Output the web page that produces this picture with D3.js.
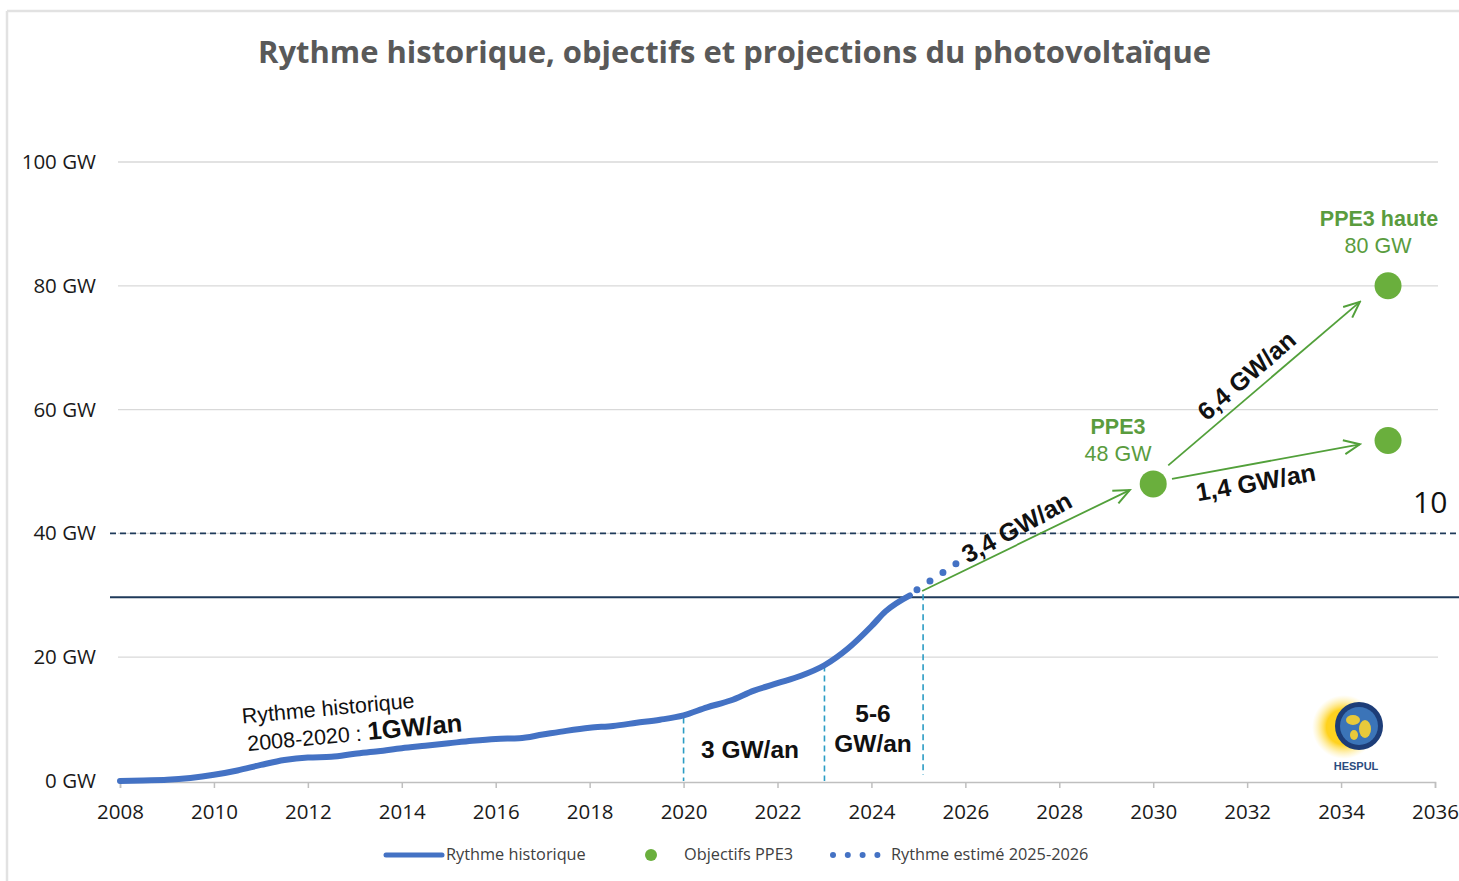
<!DOCTYPE html>
<html>
<head>
<meta charset="utf-8">
<script src="https://cdn.jsdelivr.net/npm/d3@7"></script>
<style>
  body { margin: 0; background: #ffffff; }
  svg { display: block; }
</style>
</head>
<body>
<script>
// historical cumulative PV capacity (year, GW)
var histYears = [2008.0, 2008.5, 2009.0, 2009.5, 2010.0, 2010.5, 2011.0, 2011.5, 2012.0, 2012.5,
                 2013.0, 2013.5, 2014.0, 2014.5, 2015.0, 2015.5, 2016.0, 2016.5, 2017.0, 2017.5,
                 2018.0, 2018.5, 2019.0, 2019.5, 2020.0, 2020.5, 2021.0, 2021.5, 2022.0, 2022.5,
                 2023.0, 2023.5, 2024.0, 2024.3, 2024.82];
var histGW = [0.0, 0.1, 0.2, 0.5, 1.0, 1.7, 2.6, 3.4, 3.8, 3.9,
              4.4, 4.8, 5.3, 5.7, 6.1, 6.5, 6.8, 6.9, 7.5, 8.1,
              8.6, 8.9, 9.4, 9.9, 10.6, 11.9, 13.0, 14.6, 15.8, 17.0,
              18.7, 21.4, 25.0, 27.4, 30.0];

// estimated rhythm 2025-2026 (dotted)
var estYears = [2024.97, 2025.8];
var estGW = [30.9, 35.1];

// PPE3 objectives
var objYears = [2030, 2035, 2035];
var objGW = [48, 80, 55];

// arrows between objectives
var arrowFrom = [[2025.08, 30.7], [2030.32, 51.0], [2030.4, 48.8]];
var arrowTo = [[2029.5, 47.0], [2034.4, 77.4], [2034.4, 54.4]];
var arrowLabels = ["3,4 GW/an", "6,4 GW/an", "1,4 GW/an"];

// vertical markers (year, top GW)
var markYears = [2020, 2023, 2025.1];
var markGW = [10.6, 19.0, 30.5];

var yTicks = [0, 20, 40, 60, 80, 100];
var xTicks = [2008, 2010, 2012, 2014, 2016, 2018, 2020, 2022, 2024, 2026, 2028, 2030, 2032, 2034, 2036];

var width = 1459;
var height = 881;

var svg = d3.select("body")
            .append("svg")
            .attr("width", width)
            .attr("height", height);

var x = d3.scaleLinear().domain([2008, 2036]).range([120, 1435]);
var y = d3.scaleLinear().domain([0, 100]).range([781, 162]);

var sans = "'Open Sans', 'DejaVu Sans', sans-serif";
var arial = "'Liberation Sans', Arial, sans-serif";

// frame of the screenshot
svg.append("line").attr("x1", 7).attr("x2", width).attr("y1", 11).attr("y2", 11)
   .attr("stroke", "#e2e2e2").attr("stroke-width", 2.5);
svg.append("line").attr("x1", 7).attr("x2", 7).attr("y1", 11).attr("y2", height)
   .attr("stroke", "#e2e2e2").attr("stroke-width", 2.5);

// title
svg.append("text")
   .text("Rythme historique, objectifs et projections du photovoltaïque")
   .attr("x", 258)
   .attr("y", 63)
   .attr("textLength", 953)
   .attr("lengthAdjust", "spacingAndGlyphs")
   .style("font-family", sans)
   .style("font-size", "31px")
   .style("font-weight", "bold")
   .attr("fill", "#595959");

// gridlines
svg.selectAll("line.grid")
   .data(yTicks.slice(1))
   .enter()
   .append("line")
   .attr("class", "grid")
   .attr("x1", 118)
   .attr("x2", 1438)
   .attr("y1", function(d) { return y(d); })
   .attr("y2", function(d) { return y(d); })
   .attr("stroke", "#d9d9d9")
   .attr("stroke-width", 1.3);

// y labels
svg.selectAll("text.ylab")
   .data(yTicks)
   .enter()
   .append("text")
   .attr("class", "ylab")
   .text(function(d) { return d + " GW"; })
   .attr("x", 96)
   .attr("y", function(d) { return y(d) + 7; })
   .attr("text-anchor", "end")
   .style("font-family", sans)
   .style("font-size", "20.5px")
   .attr("fill", "#1a1a1a");

// x axis
var xAxis = d3.axisBottom(x).tickValues(xTicks).tickFormat(d3.format("d")).tickSize(6).tickPadding(16);
var gx = svg.append("g").attr("transform", "translate(0," + 782 + ")").call(xAxis);
gx.select(".domain").attr("stroke", "#bfbfbf").attr("stroke-width", 1.5);
gx.selectAll(".tick line").attr("stroke", "#bfbfbf").attr("stroke-width", 1.5);
gx.selectAll(".tick text")
  .style("font-family", sans)
  .style("font-size", "20.5px")
  .attr("fill", "#1a1a1a");

// reference lines 40 GW dashed and ~30 GW solid
svg.append("line")
   .attr("x1", 110).attr("x2", width)
   .attr("y1", y(40)).attr("y2", y(40))
   .attr("stroke", "#1f3a5a")
   .attr("stroke-width", 1.6)
   .attr("stroke-dasharray", "6,4");
svg.append("line")
   .attr("x1", 110).attr("x2", width)
   .attr("y1", y(29.7)).attr("y2", y(29.7))
   .attr("stroke", "#1f3a5a")
   .attr("stroke-width", 2);

svg.append("text")
   .text("10")
   .attr("x", 1413)
   .attr("y", 513)
   .style("font-family", sans)
   .style("font-size", "30px")
   .attr("fill", "#111");

// vertical dashed markers
svg.selectAll("line.mark")
   .data(markYears)
   .enter()
   .append("line")
   .attr("class", "mark")
   .attr("x1", function(d) { return x(d); })
   .attr("x2", function(d) { return x(d); })
   .attr("y1", function(d, i) { return y(markGW[i]) + 2; })
   .attr("y2", function(d, i) { return i == 2 ? y(1) : y(0); })
   .attr("stroke", "#2b9cc4")
   .attr("stroke-width", 1.6)
   .attr("stroke-dasharray", "6,4");

// historical line
var hist = histYears.map(function(d, i) { return [d, histGW[i]]; });
var line = d3.line()
             .x(function(d) { return x(d[0]); })
             .y(function(d) { return y(d[1]); })
             .curve(d3.curveMonotoneX);
svg.append("path")
   .datum(hist)
   .attr("d", line)
   .attr("fill", "none")
   .attr("stroke", "#4472c4")
   .attr("stroke-width", 6)
   .attr("stroke-linecap", "round");

// estimated dotted line
var est = estYears.map(function(d, i) { return [d, estGW[i]]; });
svg.append("path")
   .datum(est)
   .attr("d", d3.line().x(function(d) { return x(d[0]); }).y(function(d) { return y(d[1]); }))
   .attr("fill", "none")
   .attr("stroke", "#4472c4")
   .attr("stroke-width", 7)
   .attr("stroke-linecap", "round")
   .attr("stroke-dasharray", "0,15.6");

// arrows
var green = "#52a03a";
svg.append("defs").append("marker")
   .attr("id", "arrow")
   .attr("viewBox", "0 0 20 20")
   .attr("refX", 18).attr("refY", 10)
   .attr("markerWidth", 20).attr("markerHeight", 20)
   .attr("markerUnits", "userSpaceOnUse")
   .attr("orient", "auto")
   .append("path")
   .attr("d", "M2,3 L18,10 L2,17")
   .attr("fill", "none")
   .attr("stroke", green)
   .attr("stroke-width", 2);

svg.selectAll("line.arrow")
   .data(arrowFrom)
   .enter()
   .append("line")
   .attr("class", "arrow")
   .attr("x1", function(d) { return x(d[0]); })
   .attr("y1", function(d) { return y(d[1]); })
   .attr("x2", function(d, i) { return x(arrowTo[i][0]); })
   .attr("y2", function(d, i) { return y(arrowTo[i][1]); })
   .attr("stroke", green)
   .attr("stroke-width", 1.8)
   .attr("marker-end", "url(#arrow)");

// arrow labels, rotated along arrows
var labelPos = [[1017, 528, -28.5], [1247, 376, -41], [1256, 483, -10]];
svg.selectAll("text.rate")
   .data(arrowLabels)
   .enter()
   .append("text")
   .attr("class", "rate")
   .text(function(d) { return d; })
   .attr("text-anchor", "middle")
   .attr("transform", function(d, i) {
     return "translate(" + labelPos[i][0] + "," + labelPos[i][1] + ") rotate(" + labelPos[i][2] + ")";
   })
   .attr("y", 8)
   .style("font-family", arial)
   .style("font-size", "25px")
   .style("font-weight", "bold")
   .attr("fill", "#111");

// objective dots
svg.selectAll("circle.obj")
   .data(objYears)
   .enter()
   .append("circle")
   .attr("class", "obj")
   .attr("cx", function(d) { return x(d); })
   .attr("cy", function(d, i) { return y(objGW[i]); })
   .attr("r", 13.5)
   .attr("fill", "#6aaf3d");

// objective labels
var textGreen = "#5a9c3e";
svg.append("text").text("PPE3").attr("x", 1118).attr("y", 434)
   .attr("text-anchor", "middle").style("font-family", arial).style("font-size", "21.5px")
   .style("font-weight", "bold").attr("fill", textGreen);
svg.append("text").text("48 GW").attr("x", 1118).attr("y", 461)
   .attr("text-anchor", "middle").style("font-family", arial).style("font-size", "21.5px")
   .attr("fill", textGreen);
svg.append("text").text("PPE3 haute").attr("x", 1379).attr("y", 226)
   .attr("text-anchor", "middle").style("font-family", arial).style("font-size", "21.5px")
   .style("font-weight", "bold").attr("fill", textGreen);
svg.append("text").text("80 GW").attr("x", 1378).attr("y", 253)
   .attr("text-anchor", "middle").style("font-family", arial).style("font-size", "21.5px")
   .attr("fill", textGreen);

// period annotations
var hTxt = svg.append("g").attr("transform", "translate(248,751) rotate(-5.2)");
hTxt.append("text").text("Rythme historique")
    .attr("x", -3).attr("y", -28)
    .style("font-family", arial).style("font-size", "21.5px").attr("fill", "#111");
var t2 = hTxt.append("text").attr("x", 0).attr("y", 0)
    .style("font-family", arial).style("font-size", "21.5px").attr("fill", "#111");
t2.append("tspan").text("2008-2020 : ");
t2.append("tspan").text("1GW/an").style("font-weight", "bold").style("font-size", "25.5px");

svg.append("text").text("3 GW/an").attr("x", 750).attr("y", 758)
   .attr("text-anchor", "middle").style("font-family", arial).style("font-size", "24.5px")
   .style("font-weight", "bold").attr("fill", "#111");
svg.append("text").text("5-6").attr("x", 873).attr("y", 722)
   .attr("text-anchor", "middle").style("font-family", arial).style("font-size", "24.5px")
   .style("font-weight", "bold").attr("fill", "#111");
svg.append("text").text("GW/an").attr("x", 873).attr("y", 752)
   .attr("text-anchor", "middle").style("font-family", arial).style("font-size", "24.5px")
   .style("font-weight", "bold").attr("fill", "#111");

// HESPUL logo (simplified)
var logo = svg.append("g").attr("transform", "translate(1356,727)");
var grad = svg.select("defs").append("radialGradient").attr("id", "sun");
grad.append("stop").attr("offset", "55%").attr("stop-color", "#ffd21f");
grad.append("stop").attr("offset", "100%").attr("stop-color", "#ffe98a").attr("stop-opacity", 0);
logo.append("circle").attr("cx", -12).attr("cy", 0).attr("r", 32).attr("fill", "url(#sun)");
logo.append("circle").attr("cx", 3).attr("cy", -1).attr("r", 24).attr("fill", "#1d3d78");
logo.append("circle").attr("cx", 3).attr("cy", -1).attr("r", 19).attr("fill", "#3b74b8");
logo.append("ellipse").attr("cx", -3).attr("cy", -7).attr("rx", 7).attr("ry", 5).attr("fill", "#e8c93a");
logo.append("ellipse").attr("cx", 9).attr("cy", 2).attr("rx", 6).attr("ry", 9).attr("fill", "#e8c93a");
logo.append("ellipse").attr("cx", -2).attr("cy", 8).attr("rx", 4).attr("ry", 5).attr("fill", "#e8c93a");
logo.append("text").text("HESPUL").attr("x", 0).attr("y", 43)
    .attr("text-anchor", "middle").style("font-family", arial).style("font-size", "11px")
    .style("font-weight", "bold").attr("fill", "#2b4c80");

// legend
var ly = 855;
svg.append("line").attr("x1", 386).attr("x2", 442).attr("y1", ly).attr("y2", ly)
   .attr("stroke", "#4472c4").attr("stroke-width", 5).attr("stroke-linecap", "round");
svg.append("text").text("Rythme historique").attr("x", 446).attr("y", ly + 5)
   .style("font-family", sans).style("font-size", "16.3px").attr("fill", "#404040");
svg.append("circle").attr("cx", 651).attr("cy", ly).attr("r", 6).attr("fill", "#6aaf3d");
svg.append("text").text("Objectifs PPE3").attr("x", 684).attr("y", ly + 5)
   .style("font-family", sans).style("font-size", "16.3px").attr("fill", "#404040");
svg.selectAll("circle.ldot")
   .data([0, 1, 2, 3])
   .enter()
   .append("circle")
   .attr("class", "ldot")
   .attr("cx", function(d) { return 833 + d * 14.8; })
   .attr("cy", ly)
   .attr("r", 3)
   .attr("fill", "#4472c4");
svg.append("text").text("Rythme estimé 2025-2026").attr("x", 891).attr("y", ly + 5)
   .style("font-family", sans).style("font-size", "16.3px").attr("fill", "#404040");
</script>
</body>
</html>
